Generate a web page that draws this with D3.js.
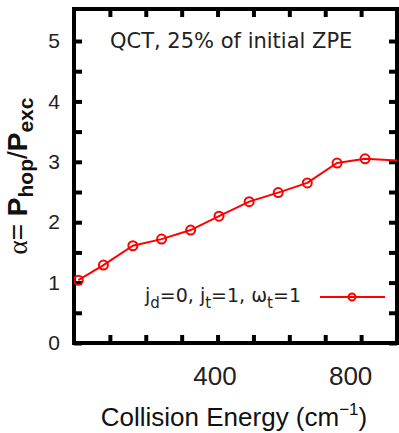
<!DOCTYPE html>
<html>
<head>
<meta charset="utf-8">
<script src="https://cdn.jsdelivr.net/npm/d3@7/dist/d3.min.js"></script>
<style>
  body { margin: 0; background: #fff; }
  svg { display: block; }
</style>
</head>
<body>
<svg id="chart" width="399" height="433"></svg>
<script>
// Données
var energies = [12, 82, 164, 244, 325, 404, 488, 569, 650, 733, 811, 970]
var alphaValues = [1.04, 1.29, 1.61, 1.72, 1.87, 2.10, 2.34, 2.49, 2.65, 2.98, 3.05, 3.00]
var xTickValues = [100, 200, 300, 400, 500, 600, 700, 800]
var xTickLabels = [400, 800]
var yTickValues = [0, 0.5, 1, 1.5, 2, 2.5, 3, 3.5, 4, 4.5, 5]
var yTickLabels = [0, 1, 2, 3, 4, 5]

// Cadre du graphique
var plot = { left: 74, top: 9, right: 397, bottom: 343 }
var tickFont = 'Liberation Sans, Arial, sans-serif'
var textFont = 'DejaVu Sans, sans-serif'

var svg = d3.select('#chart')

var xScale = d3.scaleLinear().domain([0, 900]).range([plot.left, plot.right])
var yScale = d3.scaleLinear().domain([0, 5.53]).range([plot.bottom, plot.top])

/**
 * Style commun des axes
 * @param g
 */
function styleAxis (g) {
  g.select('.domain').remove()
  g.selectAll('.tick line')
    .attr('stroke', '#000')
    .attr('stroke-width', 4)
  g.selectAll('.tick text')
    .attr('fill', '#222')
    .attr('font-family', tickFont)
}

function addAxes () {
  svg.append('g')
    .attr('transform', 'translate(' + plot.left + ',0)')
    .call(d3.axisLeft(yScale).tickValues(yTickValues).tickSize(-8).tickPadding(14)
      .tickFormat(function (d) { return yTickLabels.indexOf(d) >= 0 ? d : '' }))
    .call(styleAxis)
    .selectAll('.tick text').attr('font-size', 21)

  svg.append('g')
    .attr('transform', 'translate(' + plot.right + ',0)')
    .call(d3.axisRight(yScale).tickValues(yTickValues).tickSize(-8).tickFormat(''))
    .call(styleAxis)

  svg.append('g')
    .attr('transform', 'translate(0,' + plot.top + ')')
    .call(d3.axisTop(xScale).tickValues(xTickValues).tickSize(-8).tickFormat(''))
    .call(styleAxis)

  svg.append('g')
    .attr('transform', 'translate(0,' + plot.bottom + ')')
    .call(d3.axisBottom(xScale).tickValues(xTickValues).tickSize(-8).tickPadding(24)
      .tickFormat(function (d) { return xTickLabels.indexOf(d) >= 0 ? d : '' }))
    .call(styleAxis)
    .selectAll('.tick text')
    .attr('font-size', 26)
    .attr('dx', function (d) { return d === 800 ? -11 : -3 })

  svg.append('rect')
    .attr('x', plot.left)
    .attr('y', plot.top)
    .attr('width', plot.right - plot.left)
    .attr('height', plot.bottom - plot.top)
    .attr('fill', 'none')
    .attr('stroke', '#000')
    .attr('stroke-width', 4)
}

function addSeries () {
  svg.append('clipPath')
    .attr('id', 'clip')
    .append('rect')
    .attr('x', plot.left)
    .attr('y', plot.top)
    .attr('width', plot.right - plot.left)
    .attr('height', plot.bottom - plot.top)

  var data = energies.map(function (e, i) { return { x: e, y: alphaValues[i] } })
  var g = svg.append('g').attr('clip-path', 'url(#clip)')

  g.append('path')
    .datum(data)
    .attr('fill', 'none')
    .attr('stroke', '#ff0000')
    .attr('stroke-width', 2)
    .attr('d', d3.line().x(function (d) { return xScale(d.x) }).y(function (d) { return yScale(d.y) }))

  g.selectAll('circle')
    .data(data)
    .enter()
    .append('circle')
    .attr('cx', function (d) { return xScale(d.x) })
    .attr('cy', function (d) { return yScale(d.y) })
    .attr('r', 4.5)
    .attr('fill', 'none')
    .attr('stroke', '#ff0000')
    .attr('stroke-width', 2)
}

function addTexts () {
  svg.append('text')
    .attr('x', 110)
    .attr('y', 48)
    .attr('font-family', textFont)
    .attr('font-size', 21)
    .attr('fill', '#222')
    .text('QCT, 25% of initial ZPE')

  // Légende
  var legend = svg.append('text')
    .attr('x', 145)
    .attr('y', 302)
    .attr('font-family', textFont)
    .attr('font-size', 19)
    .attr('fill', '#222')
  var parts = [['j', 0], ['d', 1], ['=0, j', 0], ['t', 1], ['=1, \u03c9', 0], ['t', 1], ['=1', 0]]
  var prev = 0
  parts.forEach(function (p) {
    legend.append('tspan')
      .attr('dy', (p[1] - prev) * 6)
      .attr('font-size', p[1] ? 15 : 19)
      .text(p[0])
    prev = p[1]
  })
  svg.append('line')
    .attr('x1', 320).attr('x2', 385)
    .attr('y1', 297).attr('y2', 297)
    .attr('stroke', '#ff0000')
    .attr('stroke-width', 2)
  svg.append('circle')
    .attr('cx', 352).attr('cy', 297).attr('r', 3.5)
    .attr('fill', 'none')
    .attr('stroke', '#ff0000')
    .attr('stroke-width', 2)

  // Titre de l'axe des abscisses
  var xTitle = svg.append('text')
    .attr('x', 234)
    .attr('y', 426)
    .attr('text-anchor', 'middle')
    .attr('font-family', tickFont)
    .attr('font-size', 26)
    .attr('fill', '#111')
  xTitle.append('tspan').text('Collision Energy (cm')
  xTitle.append('tspan').attr('dy', -11).attr('font-size', 17).text('\u22121')
  xTitle.append('tspan').attr('dy', 11).text(')')

  // Titre de l'axe des ordonnées
  var yTitle = svg.append('text')
    .attr('transform', 'translate(27,176) rotate(-90)')
    .attr('text-anchor', 'middle')
    .attr('font-family', tickFont)
    .attr('font-size', 28)
    .attr('fill', '#111')
  yTitle.append('tspan').attr('font-family', 'Liberation Serif, serif').attr('font-size', 27).text('\u03b1')
  yTitle.append('tspan').text('= ')
  yTitle.append('tspan').attr('font-weight', 'bold').text('P')
  yTitle.append('tspan').attr('font-weight', 'bold').attr('font-size', 21).attr('dy', 6).text('hop')
  yTitle.append('tspan').attr('dy', -6).text('/')
  yTitle.append('tspan').attr('font-weight', 'bold').text('P')
  yTitle.append('tspan').attr('font-weight', 'bold').attr('font-size', 21).attr('dy', 6).text('exc')
}

addAxes()
addSeries()
addTexts()
</script>
</body>
</html>
